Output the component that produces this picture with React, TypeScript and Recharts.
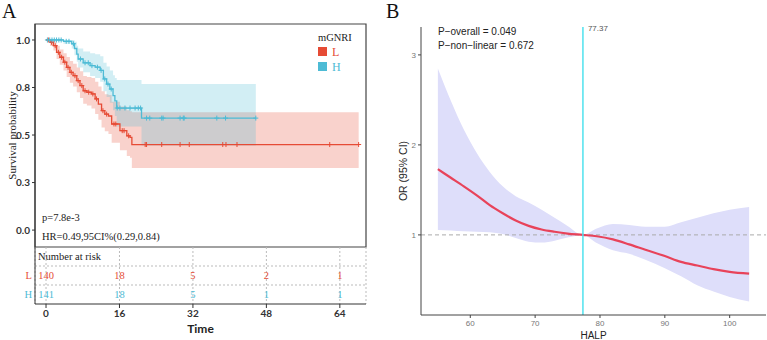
import React from 'react'
import {
  Area,
  CartesianGrid,
  ComposedChart,
  Line,
  ReferenceArea,
  ReferenceLine,
  Scatter,
  XAxis,
  YAxis,
} from 'recharts'

const SERIF = '"Liberation Serif", "Times New Roman", serif'
const SANS = 'Lato, "Open Sans", sans-serif'
const ARIAL = '"Liberation Sans", Arial, sans-serif'

const RED = '#E64B35'
const BLUE = '#4DBBD5'

// ---- Panel A: Kaplan-Meier curves by mGNRI group ----
const GROUPS = ['L', 'H']

const L_TIME = [0, 0.9, 1.6, 2.3, 3.0, 3.8, 4.5, 5.2, 5.9, 6.7, 7.4, 8.1, 8.9, 9.9, 10.7, 11.4, 12.1, 12.8, 13.6, 14.3, 16.1, 17.6, 18.3, 18.7, 68.1]
const L_SURV = [1, 0.988, 0.97, 0.935, 0.909, 0.883, 0.856, 0.83, 0.812, 0.786, 0.76, 0.733, 0.725, 0.716, 0.69, 0.663, 0.628, 0.61, 0.6, 0.558, 0.523, 0.496, 0.488, 0.45, 0.45]
const L_LOWER = [1, 0.968, 0.945, 0.9, 0.87, 0.84, 0.805, 0.775, 0.755, 0.725, 0.695, 0.665, 0.655, 0.64, 0.61, 0.58, 0.54, 0.52, 0.505, 0.46, 0.42, 0.39, 0.38, 0.326, 0.326]
const L_UPPER = [1, 1, 0.995, 0.97, 0.95, 0.93, 0.91, 0.89, 0.875, 0.855, 0.835, 0.81, 0.805, 0.8, 0.78, 0.755, 0.73, 0.715, 0.71, 0.675, 0.65, 0.63, 0.625, 0.62, 0.62]
const L_CENSOR = [0.5, 1.2, 2.0, 2.7, 3.4, 4.1, 4.8, 5.5, 6.3, 7.0, 7.8, 8.5, 9.3, 10.2, 11.0, 12.4, 13.2, 14.8, 15.2, 16.6, 17.0, 18.0, 21.6, 21.9, 25.2, 29.2, 31.2, 38.5, 39.2, 41.6, 61.8, 68.1]

const H_TIME = [0, 3.8, 5.6, 6.2, 6.7, 7.0, 8.1, 9.6, 10.7, 11.8, 12.5, 13.2, 13.9, 14.6, 15.0, 15.4, 20.8, 45.7]
const H_SURV = [1, 0.993, 0.98, 0.955, 0.926, 0.9, 0.88, 0.865, 0.857, 0.84, 0.795, 0.768, 0.742, 0.707, 0.68, 0.642, 0.589, 0.589]
const H_LOWER = [1, 0.98, 0.955, 0.92, 0.885, 0.855, 0.83, 0.81, 0.8, 0.78, 0.73, 0.7, 0.67, 0.63, 0.6, 0.545, 0.445, 0.445]
const H_UPPER = [1, 1, 1, 0.99, 0.97, 0.955, 0.94, 0.93, 0.925, 0.915, 0.88, 0.86, 0.84, 0.815, 0.8, 0.79, 0.768, 0.768]
const H_CENSOR = [0.3, 0.8, 1.3, 1.8, 2.3, 2.8, 3.3, 4.4, 5.0, 6.0, 7.5, 8.5, 9.2, 10.0, 11.2, 12.0, 12.8, 13.5, 14.2, 15.5, 16.1, 17.2, 18.3, 19.4, 20.1, 20.6, 21.9, 22.6, 25.2, 25.5, 29.2, 29.9, 30.1, 37.2, 39.1, 45.7]

const RISK_TIMES = [0, 16, 32, 48, 64]
const RISK_L = [140, 18, 5, 2, 1]
const RISK_H = [141, 18, 5, 1, 1]

const T_DOMAIN: [number, number] = [-2.4, 69.7]
const S_DOMAIN: [number, number] = [-0.089, 1.084]

// ---- Panel B: restricted cubic spline of OR against HALP ----
const HALP = [55, 57, 59, 61, 63, 65, 67, 69, 71, 73, 75, 77.37, 79.5, 82, 84.5, 87, 90, 92.5, 95, 97.5, 100, 103]
const OR = [1.73, 1.635, 1.54, 1.44, 1.33, 1.24, 1.16, 1.1, 1.06, 1.035, 1.015, 1, 0.985, 0.95, 0.895, 0.835, 0.765, 0.7, 0.66, 0.62, 0.59, 0.57]
const OR_LOW = [1.055, 1.05, 1.04, 1.035, 1.03, 1.01, 0.965, 0.925, 0.915, 0.935, 0.97, 1, 0.91, 0.83, 0.79, 0.725, 0.63, 0.54, 0.44, 0.37, 0.31, 0.26]
const OR_HIGH = [2.85, 2.49, 2.17, 1.91, 1.7, 1.54, 1.43, 1.36, 1.28, 1.19, 1.1, 1, 1.07, 1.12, 1.11, 1.09, 1.09, 1.14, 1.19, 1.24, 1.28, 1.31]
const CUTOFF = 77.37
const HALP_TICKS = [60, 70, 80, 90, 100]

// step function lookup, null past the last observed time
const stepAt = (times: number[], vals: number[], t: number) => {
  if (t > times[times.length - 1] + 1e-9) return null
  let v = vals[0]
  for (let i = 0; i < times.length; i++) {
    if (times[i] <= t + 1e-9) v = vals[i]
    else break
  }
  return v
}

const kmTimes = Array.from(new Set([...L_TIME, ...H_TIME])).sort((a, b) => a - b)
const kmRows = kmTimes.map((t) => {
  const l = stepAt(L_TIME, L_SURV, t)
  const h = stepAt(H_TIME, H_SURV, t)
  return {
    t,
    l,
    h,
    lBand: l == null ? null : [stepAt(L_TIME, L_LOWER, t), stepAt(L_TIME, L_UPPER, t)],
    hBand: h == null ? null : [stepAt(H_TIME, H_LOWER, t), stepAt(H_TIME, H_UPPER, t)],
  }
})

const lCensor = L_CENSOR.map((t) => ({ t, s: stepAt(L_TIME, L_SURV, t) }))
const hCensor = H_CENSOR.map((t) => ({ t, s: stepAt(H_TIME, H_SURV, t) }))

const riskCells = [
  ...RISK_TIMES.map((t, i) => ({ t, row: 1.5, n: RISK_L[i], color: RED })),
  ...RISK_TIMES.map((t, i) => ({ t, row: 2.5, n: RISK_H[i], color: BLUE })),
]

const orRows = HALP.map((x, i) => ({ x, or: OR[i], band: [OR_LOW[i], OR_HIGH[i]] }))

const plusMark = (color: string) => (props: any) => {
  const { cx, cy } = props
  if (cx == null || cy == null) return null
  return (
    <path
      d={`M${cx - 2.5},${cy}h5M${cx},${cy - 2.5}v5`}
      stroke={color}
      strokeWidth={1}
      fill="none"
    />
  )
}

const RiskCell = (props: any) => {
  const { cx, cy, payload } = props
  return (
    <text
      x={cx}
      y={cy}
      textAnchor="middle"
      dominantBaseline="central"
      fill={payload.color}
      fontFamily={SERIF}
      fontSize={10.5}
    >
      {payload.n}
    </text>
  )
}

const RiskGroupTick = (props: any) => {
  const { x, y, payload } = props
  const idx = payload.value < 2 ? 0 : 1
  return (
    <text
      x={x}
      y={y}
      textAnchor="end"
      dominantBaseline="central"
      fill={idx === 0 ? RED : BLUE}
      fontFamily={SERIF}
      fontSize={10.5}
    >
      {GROUPS[idx]}
    </text>
  )
}

const kmTick = { fill: '#333', fontSize: 10, fontFamily: SANS, fontWeight: 700 }
const orTick = { fill: '#777', fontSize: 8, fontFamily: ARIAL }

export default function App() {
  return (
    <div
      style={{
        position: 'absolute',
        left: 0,
        top: 0,
        width: 767,
        height: 340,
        background: '#fff',
        overflow: 'hidden',
      }}
    >
      {/* survival curves */}
      <div style={{ position: 'absolute', left: 0, top: 0 }}>
        <ComposedChart
          width={380}
          height={250}
          data={kmRows}
          margin={{ top: 24, right: 14, bottom: 3, left: 0 }}
        >
          <XAxis dataKey="t" type="number" domain={T_DOMAIN} hide allowDataOverflow />
          <YAxis
            type="number"
            domain={S_DOMAIN}
            ticks={[0, 0.25, 0.5, 0.75, 1]}
            interval={0}
            tickFormatter={(v: number) => v.toFixed(1)}
            width={35}
            tickSize={3}
            stroke="#333"
            tick={kmTick}
            allowDataOverflow
            label={{
              value: 'Survival probability',
              angle: -90,
              position: 'insideLeft',
              offset: 12,
              style: { textAnchor: 'middle', fontFamily: SERIF, fontSize: 11, fill: '#222' },
            }}
          />
          <Area
            type="stepAfter"
            dataKey="lBand"
            stroke="none"
            fill={RED}
            fillOpacity={0.25}
            isAnimationActive={false}
          />
          <Area
            type="stepAfter"
            dataKey="hBand"
            stroke="none"
            fill={BLUE}
            fillOpacity={0.25}
            isAnimationActive={false}
          />
          <Line
            type="stepAfter"
            dataKey="l"
            stroke={RED}
            strokeWidth={1.3}
            dot={false}
            isAnimationActive={false}
          />
          <Line
            type="stepAfter"
            dataKey="h"
            stroke={BLUE}
            strokeWidth={1.3}
            dot={false}
            isAnimationActive={false}
          />
          <Scatter data={lCensor} dataKey="s" shape={plusMark(RED)} isAnimationActive={false} />
          <Scatter data={hCensor} dataKey="s" shape={plusMark(BLUE)} isAnimationActive={false} />
          <ReferenceArea
            x1={T_DOMAIN[0]}
            x2={T_DOMAIN[1]}
            y1={S_DOMAIN[0]}
            y2={S_DOMAIN[1]}
            fill="none"
            stroke="#444"
            strokeWidth={1.2}
            ifOverflow="visible"
          />
          <text x={2} y={18} fontFamily={SERIF} fontSize={20} fill="#111">
            A
          </text>
          <text x={42} y={221} fontFamily={SERIF} fontSize={10.5} fill="#222">
            p=7.8e-3
          </text>
          <text x={42} y={240} fontFamily={SERIF} fontSize={10.5} fill="#222">
            HR=0.49,95CI%(0.29,0.84)
          </text>
          <text x={318} y={41} fontFamily={SERIF} fontSize={10.5} fill="#222">
            mGNRI
          </text>
          {GROUPS.map((g, i) => (
            <g key={g}>
              <rect x={318} y={47 + i * 15} width={9} height={9} fill={i === 0 ? RED : BLUE} />
              <text
                x={332}
                y={56 + i * 15}
                fontFamily={SERIF}
                fontSize={12}
                fill={i === 0 ? RED : BLUE}
              >
                {g}
              </text>
            </g>
          ))}
        </ComposedChart>
      </div>

      {/* number at risk table */}
      <div style={{ position: 'absolute', left: 0, top: 247 }}>
        <ComposedChart width={380} height={93} margin={{ top: 0, right: 14, bottom: 0, left: 0 }}>
          <CartesianGrid vertical horizontal={false} strokeDasharray="2 2" stroke="#bbb" />
          <XAxis
            dataKey="t"
            type="number"
            domain={T_DOMAIN}
            ticks={RISK_TIMES}
            interval={0}
            height={36}
            tickSize={4}
            stroke="#333"
            tick={kmTick}
            allowDataOverflow
            label={{
              value: 'Time',
              position: 'insideBottom',
              offset: 7,
              style: { fontFamily: SANS, fontSize: 12, fontWeight: 700, fill: '#222' },
            }}
          />
          <YAxis
            dataKey="row"
            type="number"
            domain={[0, 3]}
            reversed
            ticks={[1.5, 2.5]}
            interval={0}
            width={35}
            tickLine={false}
            tickSize={0}
            tickMargin={3}
            stroke="#333"
            tick={<RiskGroupTick />}
          />
          <ReferenceLine y={1} stroke="#bbb" strokeDasharray="2 2" />
          <ReferenceLine y={2} stroke="#bbb" strokeDasharray="2 2" />
          <ReferenceLine
            y={0.5}
            stroke="none"
            label={{
              value: 'Number at risk',
              position: 'insideLeft',
              offset: 3,
              style: { fontFamily: SERIF, fontSize: 10.5, fill: '#222' },
            }}
          />
          <Scatter data={riskCells} dataKey="row" shape={RiskCell} isAnimationActive={false} />
        </ComposedChart>
      </div>

      {/* odds ratio spline */}
      <div style={{ position: 'absolute', left: 383, top: 0 }}>
        <ComposedChart
          width={384}
          height={340}
          data={orRows}
          margin={{ top: 27, right: 1, bottom: 0, left: 0 }}
        >
          <XAxis
            dataKey="x"
            type="number"
            domain={[52.4, 105.6]}
            ticks={HALP_TICKS}
            interval={0}
            height={25}
            tickSize={3}
            tickMargin={2}
            stroke="#444"
            tick={orTick}
            allowDataOverflow
            label={{
              value: 'HALP',
              position: 'insideBottom',
              offset: 1,
              style: { fontFamily: ARIAL, fontSize: 10, fill: '#222' },
            }}
          />
          <YAxis
            type="number"
            domain={[0.11, 3.31]}
            ticks={[1, 2, 3]}
            interval={0}
            width={38}
            tickSize={3}
            stroke="#444"
            tick={orTick}
            allowDataOverflow
            label={{
              value: 'OR (95% CI)',
              angle: -90,
              position: 'insideLeft',
              offset: 20,
              style: { textAnchor: 'middle', fontFamily: ARIAL, fontSize: 10.5, fill: '#222' },
            }}
          />
          <Area
            type="monotone"
            dataKey="band"
            stroke="none"
            fill="#dedefa"
            fillOpacity={1}
            isAnimationActive={false}
          />
          <ReferenceLine y={1} stroke="#aaa" strokeDasharray="4 3" />
          <Line
            type="monotone"
            dataKey="or"
            stroke="#E8435A"
            strokeWidth={2.2}
            dot={false}
            isAnimationActive={false}
          />
          <ReferenceLine
            x={CUTOFF}
            stroke="#4fe2ee"
            strokeWidth={1.5}
            label={(p: any) => (
              <text
                x={p.viewBox.x + 5}
                y={p.viewBox.y + 4}
                fontFamily={ARIAL}
                fontSize={8}
                fill="#555"
              >
                {CUTOFF}
              </text>
            )}
          />
          <text x={3} y={18} fontFamily={SERIF} fontSize={20} fill="#111">
            B
          </text>
          <text x={55} y={35} fontFamily={ARIAL} fontSize={10} fill="#222">
            P−overall = 0.049
          </text>
          <text x={55} y={49} fontFamily={ARIAL} fontSize={10} fill="#222">
            P−non−linear = 0.672
          </text>
        </ComposedChart>
      </div>
    </div>
  )
}
